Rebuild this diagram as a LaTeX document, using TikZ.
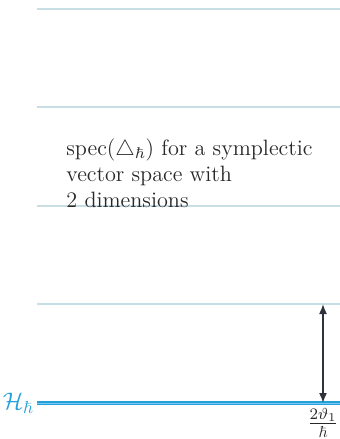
\documentclass[tikz,border=0pt]{standalone}
\usepackage{amsmath,amssymb}
\usetikzlibrary{arrows.meta}
\definecolor{gridgray}{RGB}{200,222,228}
\definecolor{hblue}{RGB}{38,160,218}
\definecolor{hlight}{RGB}{120,200,240}
\definecolor{arrowdark}{RGB}{45,50,60}
\definecolor{textdark}{RGB}{40,40,40}
\begin{document}
\begin{tikzpicture}[x=0.5pt,y=-0.5pt,
  level/.style={draw=gridgray,line width=0.9pt},
  hline/.style={draw=hblue,line width=2pt},
  gap/.style={arrowdark,line width=0.8pt,{Latex[length=5pt,width=4pt]}-{Latex[length=5pt,width=4pt]}},
  lbl/.style={inner sep=0pt,text=textdark}]
\useasboundingbox (0,0) rectangle (340,439);
\foreach \y/\n in {9/a,107/b,206/c,304/d}{
  \coordinate (L\n) at (37,\y);
  \coordinate (R\n) at (340,\y);
  \draw[level] (L\n) -- (R\n);
}
\coordinate (He) at (37,403);
\coordinate (Hr) at (340,403);
\draw[hline] (He) -- (Hr);
\draw[draw=hlight,line width=0.4pt] (He) -- (Hr);
\node[lbl,text=hblue,anchor=east,font=\fontsize{12.5}{14}\selectfont] (H) at (34,403) {$\mathcal{H}_\hbar$};
\coordinate (top) at (323,304);
\coordinate (bot) at (323,403);
\draw[gap] (top) -- (bot);
\node[lbl,anchor=north,font=\fontsize{12}{14}\selectfont] (f) at (323,408) {$\frac{2\vartheta_1}{\hbar}$};
\node[lbl,anchor=base west,align=left,font=\fontsize{11.1}{12.9}\selectfont] (t) at (66,207) {spec($\triangle_\hbar$) for a symplectic\\vector space with\\2 dimensions};
\end{tikzpicture}
\end{document}
